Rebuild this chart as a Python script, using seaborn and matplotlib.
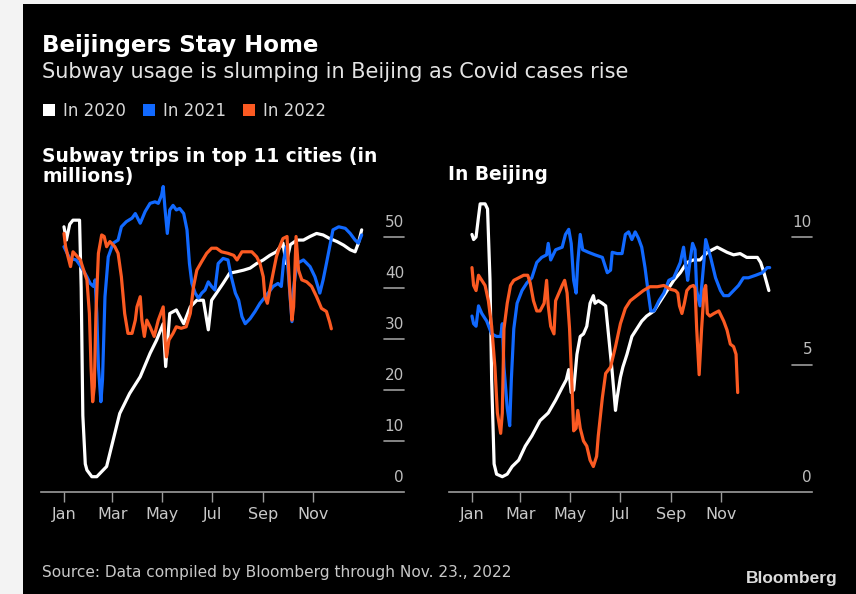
import numpy as np
import pandas as pd
import seaborn as sns
import matplotlib.pyplot as plt
from matplotlib.patches import Patch, Rectangle

# ---- data (day of year, value) ----
months = ["Jan", "Mar", "May", "Jul", "Sep", "Nov"]
month_days = [0, 59, 120, 181, 243, 304]
years = ["In 2020", "In 2021", "In 2022"]
colors = ["#ffffff", "#1169ff", "#fb5a22"]

# top 11 cities, millions of trips
cities_2020_days = [0, 3, 7, 11, 19, 21, 23, 26, 28, 34, 40, 52, 60, 68, 80, 93, 105, 113, 121, 124,
                    129, 137, 146, 154, 162, 170, 176, 180, 186, 194, 202, 211, 219, 227, 235, 243, 251, 259, 267, 271,
                    276, 284, 292, 300, 308, 316, 324, 333, 341, 349, 355, 359, 363]
cities_2020 = [52.0, 49.4, 52.5, 53.3, 53.3, 40, 15, 5.5, 4.3, 3.0, 3.0, 5.0, 10.2, 15.4, 19.3, 22.6, 27.2, 29.8, 33.0, 24.6,
               35.0, 35.7, 33.0, 36.3, 37.6, 37.6, 31.8, 37.6, 39.0, 40.9, 42.9, 43.2, 43.5, 43.9, 44.8, 45.5, 46.4, 47.1, 48.8, 44.8,
               48.5, 49.4, 49.4, 50.1, 50.7, 50.4, 49.7, 49.1, 48.4, 47.5, 47.1, 48.8, 51.4]

cities_2021_days = [0, 3, 7, 15, 22, 28, 32, 36, 38, 40, 42, 45, 47, 50, 54, 60, 66, 70, 76, 83,
                    87, 93, 99, 105, 111, 115, 119, 121, 123, 126, 129, 133, 137, 141, 146, 150, 153, 156, 160, 164,
                    168, 172, 176, 180, 184, 188, 194, 200, 204, 209, 213, 217, 221, 227, 233, 239, 247, 255, 261, 265,
                    268, 271, 274, 278, 280, 284, 292, 300, 306, 312, 316, 320, 324, 328, 335, 343, 349, 355, 359, 363]
cities_2021 = [48.1, 47.1, 45.8, 45.5, 43.9, 42.2, 40.9, 40.3, 41.6, 35, 24.6, 17.7, 22, 38.3, 46.1, 48.8, 49.4, 52, 53, 53.7,
               54.6, 52.7, 55, 56.6, 56.9, 56.6, 58.2, 59.9, 55.9, 50.7, 55.3, 56.2, 55.3, 55.6, 54.6, 51.4, 44.8, 40.9, 39, 38,
               39, 39.6, 41.2, 40.3, 39.6, 44.8, 45.8, 45.5, 42.2, 39, 37.6, 34.4, 33, 34, 35.4, 37, 38.6, 40.3, 40.9, 40.3,
               45.5, 48.1, 42, 33.4, 40, 44.8, 45.5, 44.2, 42.2, 39, 41.6, 44.8, 48.1, 51.4, 52, 51.7, 50.7, 49.4, 48.8, 50.4]

cities_2022_days = [0, 2, 5, 8, 11, 15, 20, 24, 28, 31, 33, 35, 37, 39, 42, 46, 49, 52, 56, 62,
                    66, 70, 74, 78, 83, 87, 89, 93, 95, 98, 101, 105, 110, 115, 121, 123, 125, 128, 133, 137,
                    143, 149, 154, 158, 162, 168, 174, 180, 186, 192, 200, 207, 211, 217, 223, 229, 235, 239, 243, 245,
                    248, 251, 255, 259, 263, 267, 272, 275, 278, 280, 283, 286, 290, 296, 302, 308, 314, 320, 324, 326]
cities_2022 = [50.7, 48.1, 46.1, 44.2, 47.1, 46.4, 45.5, 43.5, 41.6, 35, 24.6, 17.7, 20.7, 35, 46.8, 50.4, 50.1, 48.1, 49.1, 48.1,
               46.8, 42.2, 35, 31.1, 31.1, 33.7, 36.3, 38.3, 33.7, 30.5, 33.7, 32.4, 30.5, 33.7, 36.3, 30.5, 26.5, 29.8, 31.1, 32.4,
               32.1, 32.4, 35, 40.3, 43.5, 45.2, 46.8, 47.8, 47.8, 47.1, 46.8, 46.4, 45.5, 47.1, 47.1, 47.1, 46.1, 44.8, 42.2, 38.3,
               37, 39.6, 42.9, 46.1, 48.1, 49.7, 50.1, 40.3, 33.7, 36.3, 50.1, 43.5, 41.6, 41.2, 40.3, 38.3, 36, 35.4, 33.3, 32.0]

# Beijing, millions of trips
beijing_2020_days = [0, 2, 5, 8, 10, 16, 19, 22, 24, 27, 30, 37, 43, 49, 57, 65, 73, 83, 93, 102,
                     110, 115, 118, 121, 124, 128, 132, 136, 140, 144, 148, 150, 154, 159, 163, 167, 171, 175, 177, 181,
                     184, 189, 195, 201, 207, 213, 222, 230, 238, 246, 254, 262, 270, 278, 287, 293, 299, 311, 319, 327,
                     335, 348, 352, 356, 362]
beijing_2020 = [10.1, 9.9, 10.0, 10.8, 11.3, 11.3, 11.1, 8.3, 4.4, 1.1, 0.7, 0.6, 0.7, 1.0, 1.25, 1.8, 2.2, 2.8, 3.1, 3.6,
                4.1, 4.4, 4.8, 3.9, 4.0, 5.4, 6.1, 6.2, 6.5, 7.4, 7.7, 7.4, 7.5, 7.4, 7.3, 6.0, 4.7, 3.2, 3.7, 4.5,
                4.9, 5.4, 6.1, 6.4, 6.7, 6.9, 7.1, 7.5, 7.9, 8.3, 8.6, 9.0, 9.1, 9.1, 9.4, 9.5, 9.6, 9.4, 9.3, 9.35,
                9.2, 9.2, 9.0, 8.6, 7.9]

beijing_2021_days = [0, 2, 5, 8, 12, 18, 24, 30, 35, 37, 39, 43, 46, 48, 51, 55, 61, 67, 73, 79,
                     85, 91, 93, 96, 102, 110, 114, 118, 121, 124, 127, 129, 132, 135, 142, 150, 159, 163, 165, 169,
                     171, 177, 183, 187, 191, 195, 199, 203, 207, 211, 215, 218, 222, 228, 234, 240, 246, 250, 254, 258,
                     261, 263, 266, 269, 272, 274, 278, 283, 285, 291, 297, 303, 307, 313, 319, 325, 331, 337, 346, 354,
                     360, 363]
beijing_2021 = [6.9, 6.6, 6.5, 7.3, 7.0, 6.7, 6.2, 6.1, 6.1, 6.6, 4.9, 3.3, 2.6, 4.4, 6.4, 7.4, 7.9, 8.2, 8.4, 9.0,
                9.2, 9.3, 9.75, 9.1, 9.5, 9.6, 10.1, 10.3, 9.75, 8.3, 7.8, 9.0, 10.1, 9.5, 9.4, 9.3, 9.2, 8.8, 8.6, 8.7,
                9.4, 9.35, 9.35, 10.1, 10.2, 9.9, 10.2, 9.95, 9.6, 8.8, 7.8, 7.1, 7.1, 7.5, 7.8, 8.3, 8.4, 8.7, 9.0, 9.6,
                8.8, 8.3, 9.1, 9.75, 9.5, 7.9, 7.3, 9.1, 9.9, 9.2, 8.4, 7.9, 7.7, 7.7, 7.9, 8.1, 8.4, 8.4, 8.5, 8.6,
                8.8, 8.8]

beijing_2022_days = [0, 2, 5, 8, 12, 16, 20, 24, 28, 31, 35, 37, 39, 43, 47, 51, 57, 63, 68, 71,
                     75, 79, 83, 88, 91, 93, 96, 100, 102, 106, 110, 113, 116, 119, 122, 124, 127, 129, 132, 136,
                     140, 144, 148, 152, 154, 159, 163, 169, 175, 181, 187, 193, 201, 209, 217, 226, 234, 242, 248, 251,
                     253, 256, 259, 262, 266, 270, 272, 274, 277, 280, 283, 285, 287, 290, 295, 301, 307, 311, 315, 319,
                     322, 324]
beijing_2022 = [8.8, 8.1, 7.9, 8.5, 8.3, 8.1, 7.5, 6.5, 4.9, 3.1, 2.3, 3.1, 6.4, 7.4, 8.1, 8.3, 8.4, 8.5, 8.5, 8.2,
                7.5, 7.1, 7.1, 7.4, 8.3, 7.3, 6.5, 6.2, 7.5, 7.8, 8.1, 8.3, 7.8, 6.4, 4.1, 2.4, 2.5, 3.2, 2.5, 2.0,
                1.8, 1.25, 1.0, 1.4, 2.2, 3.7, 4.65, 4.9, 5.7, 6.6, 7.2, 7.5, 7.7, 7.9, 8.05, 8.05, 8.1, 7.95, 7.9, 7.8,
                7.3, 7.0, 7.4, 7.9, 8.05, 8.1, 8.0, 6.4, 4.6, 6.4, 7.9, 8.1, 7.0, 6.9, 7.0, 7.1, 6.7, 6.35, 5.8, 5.7,
                5.4, 3.9]

cities_ticks = [0, 10, 20, 30, 40, 50]
beijing_ticks = [0, 5, 10]


def long_frame(pairs):
    parts = []
    for name, (d, v) in zip(years, pairs):
        parts.append(pd.DataFrame({"day": d, "value": v, "year": name}))
    return pd.concat(parts, ignore_index=True)


df_cities = long_frame([(cities_2020_days, cities_2020), (cities_2021_days, cities_2021),
                        (cities_2022_days, cities_2022)])
df_beijing = long_frame([(beijing_2020_days, beijing_2020), (beijing_2021_days, beijing_2021),
                         (beijing_2022_days, beijing_2022)])

sns.set_theme(style="dark", rc={"axes.facecolor": "black", "figure.facecolor": "black",
                                "axes.grid": False})
plt.rcParams["font.family"] = ["DejaVu Sans"]

grey = "#9c9c9c"
txt = "#c8c8c8"

fig = plt.figure(figsize=(8.56, 5.94), dpi=100)
ax1 = fig.add_axes([41 / 856, 102 / 594, 363 / 856, 309 / 594])
ax2 = fig.add_axes([449 / 856, 102 / 594, 363 / 856, 309 / 594])


def style_panel(ax, df, ymax, ticks):
    sns.lineplot(data=df, x="day", y="value", hue="year", hue_order=years, palette=colors,
                 estimator=None, linewidth=2.3, legend=False, ax=ax)
    ax.set_xlim(-28, 414.6)
    ax.set_ylim(0, ymax)
    ax.set_xlabel("")
    ax.set_ylabel("")
    for s in ["top", "left", "right"]:
        ax.spines[s].set_visible(False)
    ax.spines["bottom"].set_color(grey)
    ax.spines["bottom"].set_linewidth(1.2)
    ax.set_xticks(month_days)
    ax.set_xticklabels(months)
    ax.tick_params(axis="x", direction="out", length=7, width=1, color=grey,
                   labelsize=11.5, labelcolor=txt, pad=4, bottom=True)
    ax.set_yticks([])
    tr = ax.get_yaxis_transform()
    for t in ticks:
        if t > 0:
            ax.plot([0.945, 1.0], [t, t], transform=tr, color=grey, lw=1.2, clip_on=False)
        ax.annotate(str(t), xy=(1.0, t), xycoords=tr, xytext=(0, 7.5),
                    textcoords="offset points", ha="right", va="baseline",
                    fontsize=11, color="#bdbdbd")


style_panel(ax1, df_cities, 309 / 5.1, cities_ticks)
style_panel(ax2, df_beijing, 309 / 25.5, beijing_ticks)

# headings
fig.text(42 / 856, 1 - 52 / 594, "Beijingers Stay Home", fontsize=16.5, fontweight="bold",
         color="white", va="baseline")
fig.text(42 / 856, 1 - 78.5 / 594, "Subway usage is slumping in Beijing as Covid cases rise",
         fontsize=15, color="#e4e4e4", va="baseline")

handles = [Patch(facecolor=c, edgecolor="none") for c in colors]
fig.legend(handles, years, loc="center left", bbox_to_anchor=(43 / 856, 1 - 110.5 / 594), ncol=3,
           frameon=False, fontsize=12, labelcolor="#d8d8d8", handlelength=0.72, handleheight=0.72,
           handletextpad=0.5, columnspacing=1.0, borderpad=0, borderaxespad=0)

fig.text(42 / 856, 1 - 162 / 594, "Subway trips in top 11 cities (in", fontsize=13.4,
         fontweight="bold", color="white", va="baseline")
fig.text(42 / 856, 1 - 182 / 594, "millions)", fontsize=13.4, fontweight="bold",
         color="white", va="baseline")
fig.text(448 / 856, 1 - 180 / 594, "In Beijing", fontsize=13.4, fontweight="bold",
         color="white", va="baseline")

fig.text(42 / 856, 1 - 577 / 594, "Source: Data compiled by Bloomberg through Nov. 23., 2022",
         fontsize=11.1, color=txt, va="baseline")
fig.text(838 / 856, 1 - 583 / 594, "Bloomberg", fontsize=12.5, fontweight="bold",
         family=["Liberation Sans", "DejaVu Sans"], color="#dcdcdc", ha="right", va="baseline")

# screenshot margins
fig.add_artist(Rectangle((0, 0), 23 / 856, 1, transform=fig.transFigure,
                         facecolor="#f3f3f3", edgecolor="none", zorder=-1))
fig.add_artist(Rectangle((0, 1 - 4 / 594), 1, 4 / 594, transform=fig.transFigure,
                         facecolor="#f3f3f3", edgecolor="none", zorder=-1))

fig.savefig("out.png", dpi=100, facecolor="black")
